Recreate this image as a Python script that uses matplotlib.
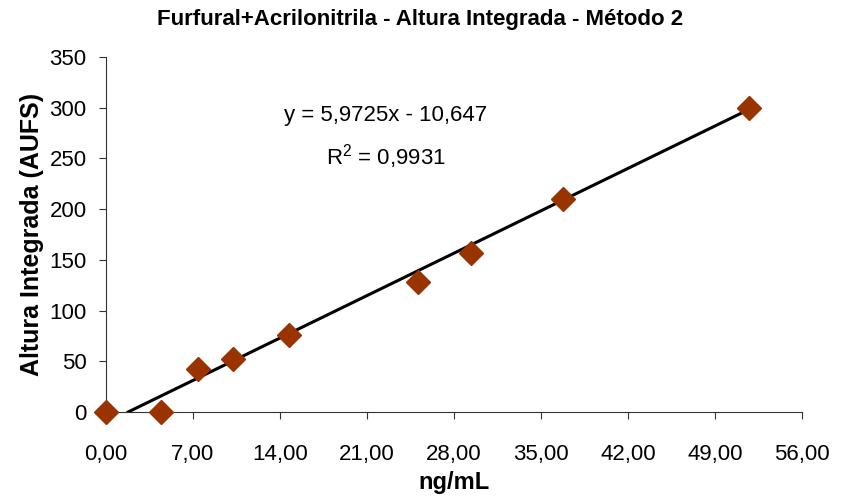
import numpy as np
import matplotlib
matplotlib.use('Agg')
import matplotlib.pyplot as plt
from matplotlib.ticker import FuncFormatter

plt.rcParams['font.family'] = ['Liberation Sans', 'DejaVu Sans']

# dados
conc = [0.0, 4.42, 7.4, 10.2, 14.7, 25.1, 29.4, 36.8, 51.7]
altura = [0, 0, 42, 52, 76, 128, 157, 210, 300]
slope = 5.9725
intercept = -10.647

fig = plt.figure(figsize=(8.41, 4.99), dpi=100)
ax = fig.add_axes([106 / 841, 1 - 412 / 499, 696 / 841, 355 / 499])

x0 = -intercept / slope
xl = np.array([x0, max(conc)])
ax.plot(xl, slope * xl + intercept, color='black', lw=2.2, zorder=2)
ax.plot(conc, altura, 'D', color='#993300', ms=12, mec='#993300', zorder=3, clip_on=False)

ax.set_xlim(0, 56)
ax.set_ylim(0, 350)
ax.set_xticks(np.arange(0, 57, 7))
ax.set_yticks(np.arange(0, 351, 50))
ax.xaxis.set_major_formatter(FuncFormatter(lambda v, p: f'{v:.2f}'.replace('.', ',')))
ax.spines['top'].set_visible(False)
ax.spines['right'].set_visible(False)
ax.spines['left'].set_color('#333333')
ax.spines['bottom'].set_color('#333333')
ax.tick_params(direction='out', length=5, labelsize=16, color='#333333')
ax.tick_params(axis='x', pad=18)
ax.tick_params(axis='y', pad=9)

ax.set_xlabel('ng/mL', fontsize=17, fontweight='bold', labelpad=4)
ax.set_ylabel('Altura Integrada (AUFS)', fontsize=18, fontweight='bold', labelpad=4)
fig.text(0.5, 1 - 20 / 499, 'Furfural+Acrilonitrila - Altura Integrada - Método 2',
         ha='center', va='center', fontsize=16, fontweight='bold')

ax.text(22.5, 292, 'y = 5,9725x - 10,647', ha='center', va='center', fontsize=16)
ax.text(22.5, 252, '$\\mathregular{R^2}$ = 0,9931', ha='center', va='center', fontsize=16)

fig.savefig('out.png', dpi=100)
